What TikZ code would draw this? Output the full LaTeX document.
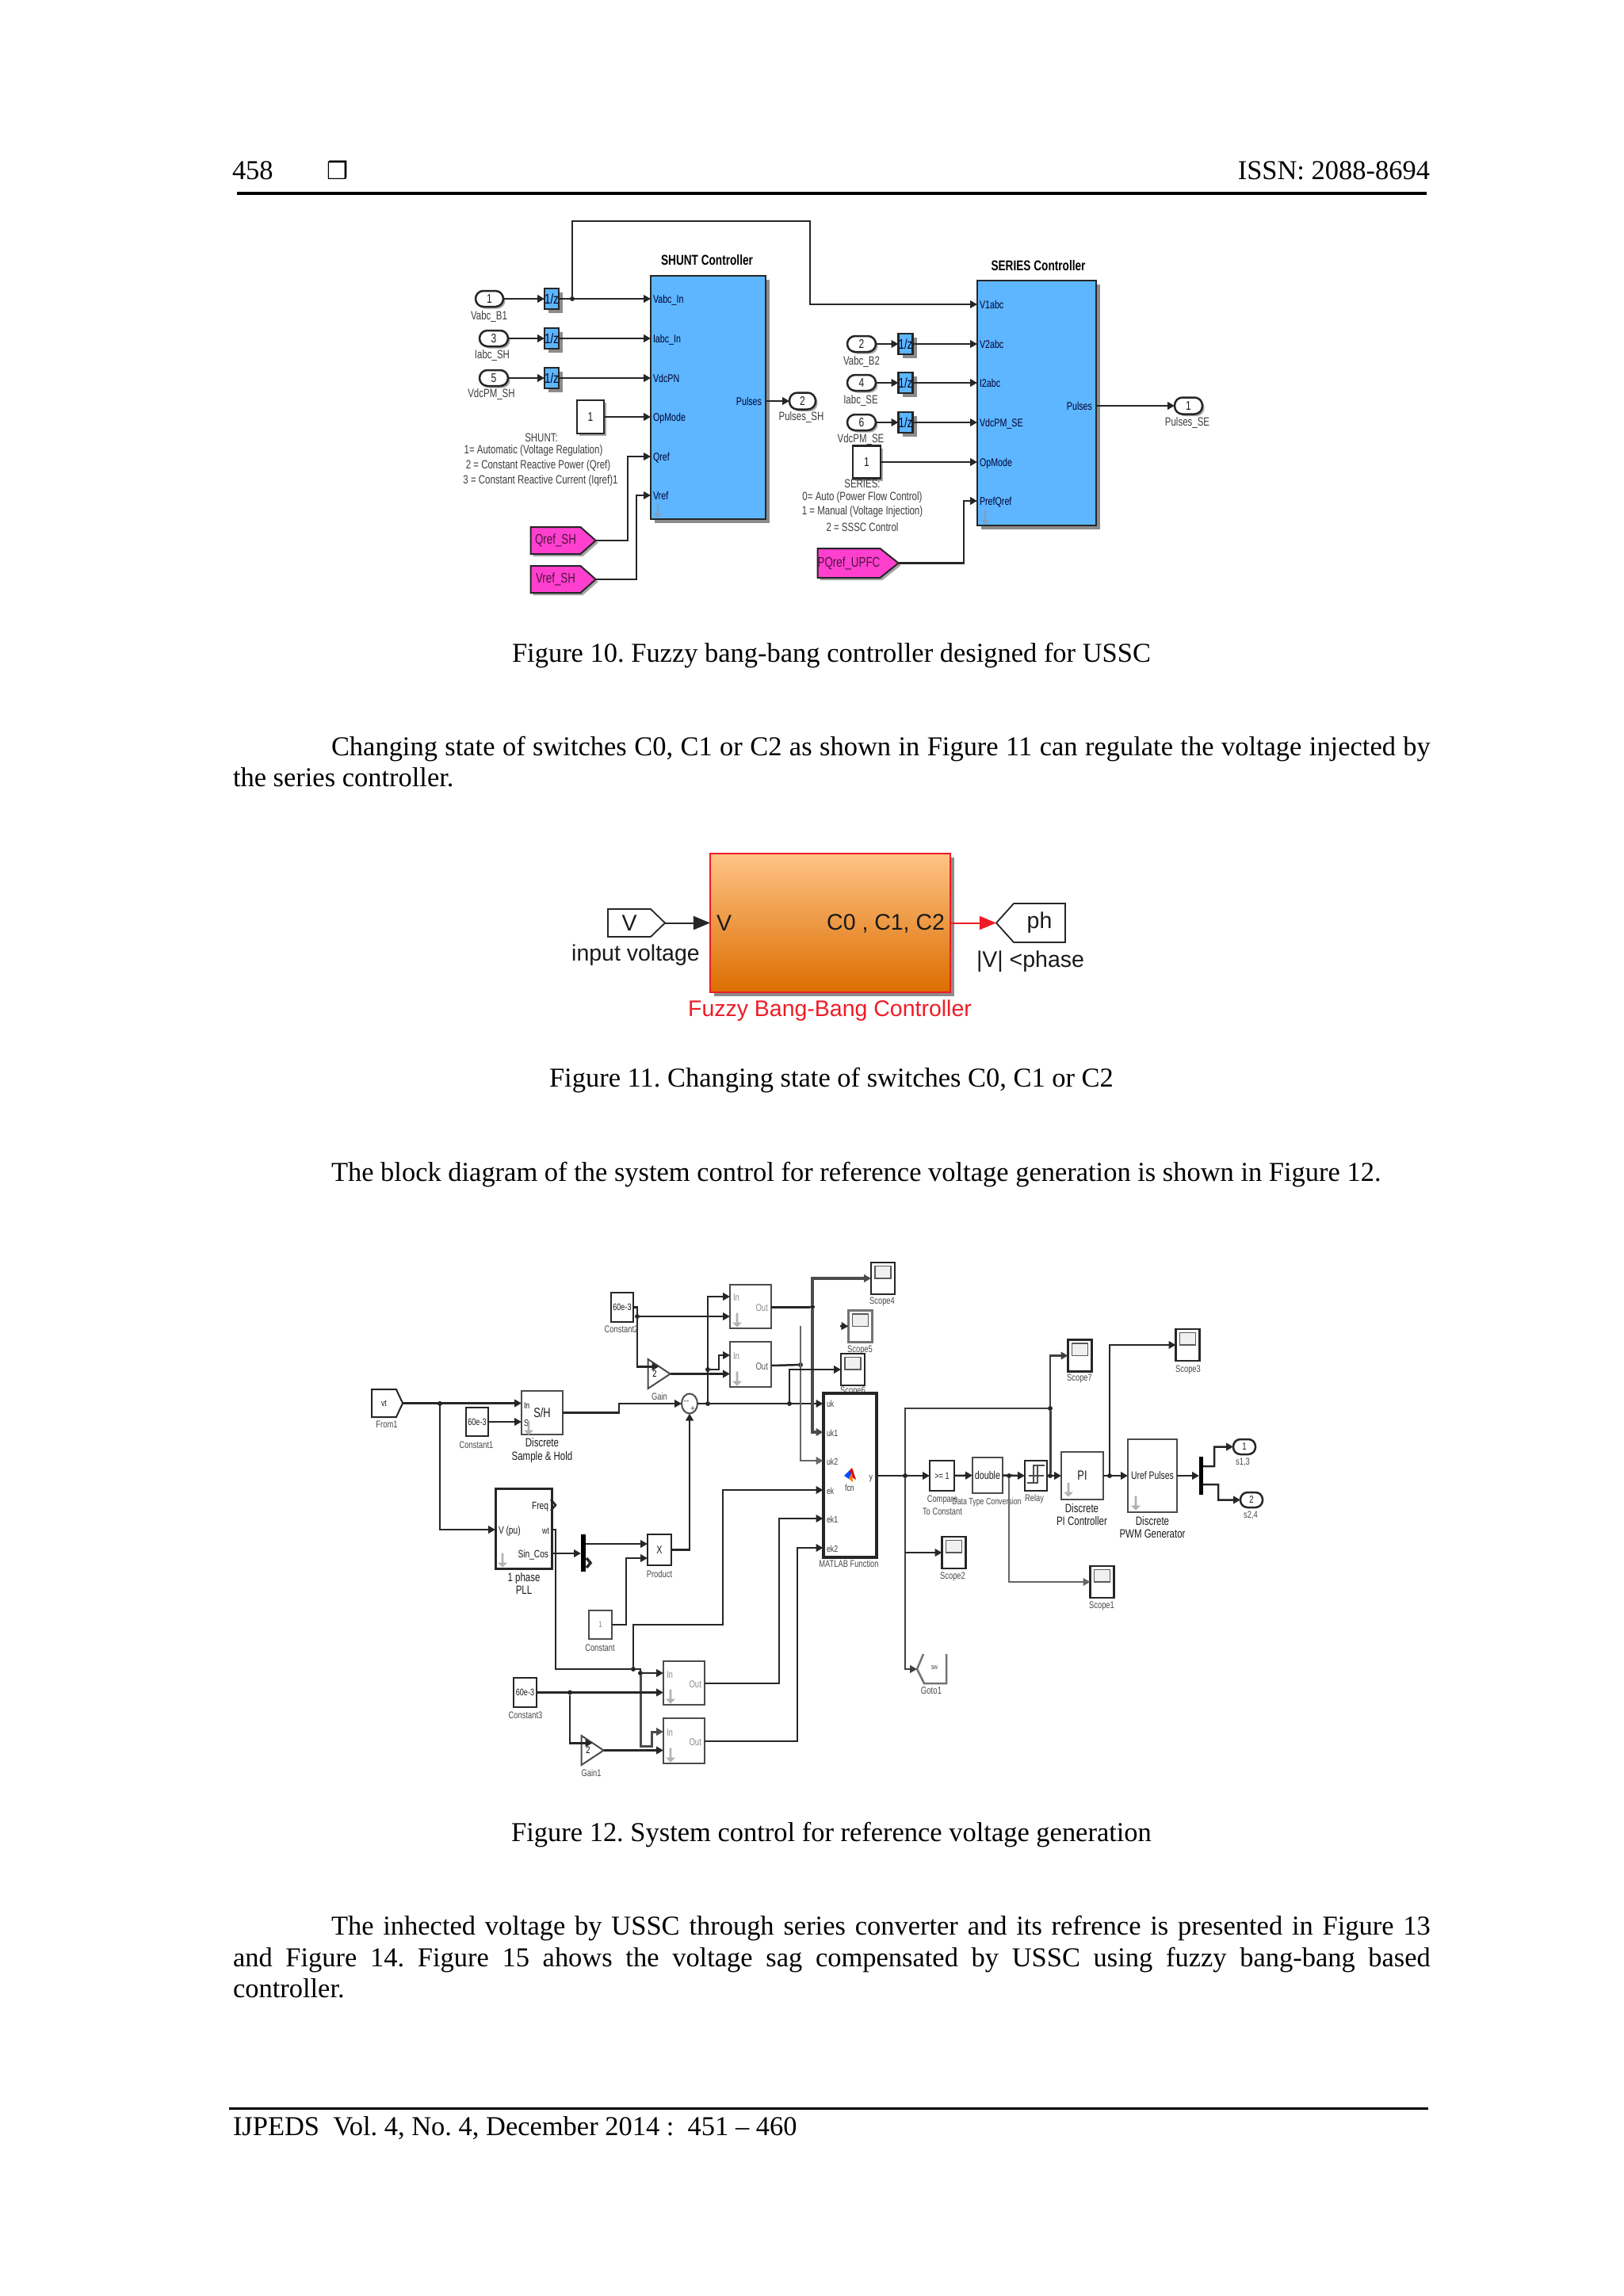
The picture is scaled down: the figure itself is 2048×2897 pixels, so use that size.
\documentclass[tikz,border=0pt]{standalone}
\usepackage{fontspec}
\setmainfont{Liberation Serif}
\newfontfamily\simfont[FakeStretch=0.76]{Liberation Sans}
\newfontfamily\simwide{Liberation Sans}
\newfontfamily\symbfont{DejaVu Sans}
\usepackage{tikz}
\usetikzlibrary{arrows.meta,positioning,shapes.geometric,shapes.symbols,shapes.arrows,shadows}
\usepackage{xcolor}
\definecolor{simblue}{HTML}{5DB6FF}
\definecolor{simpink}{HTML}{FF40CF}
\definecolor{maskblue}{HTML}{7BA2C6}
\definecolor{wirecol}{HTML}{262626}
\definecolor{darktext}{HTML}{1A1A1A}
\definecolor{fuzzyred}{HTML}{EE1C25}
\definecolor{fuzzytop}{HTML}{FFC386}
\definecolor{fuzzymid}{HTML}{F3A454}
\definecolor{fuzzybot}{HTML}{DC6E00}

\begin{document}
\frenchspacing
\begin{tikzpicture}[x=0.01cm,y=-0.01cm,
  sized/.style 2 args={minimum width=#1*0.01cm, minimum height=#2*0.01cm},
  pageline/.style={anchor=base west, inner sep=0pt, outer sep=0pt, font=\fontsize{9.8}{11}\selectfont, text=black},
  pagecap/.style={anchor=base, inner sep=0pt, outer sep=0pt, font=\fontsize{9.8}{11}\selectfont, text=black},
  blockbase/.style={rectangle, draw=wirecol, line width=0.025cm, inner sep=0pt, outer sep=0pt, fill=white, text=darktext, font=\simfont\fontsize{4.5}{5}\selectfont},
  blueblock/.style={blockbase, fill=simblue, drop shadow={shadow xshift=0.05cm, shadow yshift=-0.05cm, fill=black, opacity=0.45}},
  delayblock/.style={blueblock, sized={18}{26}, font=\simfont\fontsize{5}{5}\selectfont, text=black!85!blue},
  constblock/.style={blockbase, drop shadow={shadow xshift=0.03cm, shadow yshift=-0.03cm, fill=black, opacity=0.35}},
  portoval/.style={blockbase, rounded corners=0.1cm, drop shadow={shadow xshift=0.025cm, shadow yshift=-0.025cm, fill=black, opacity=0.35}},
  tagright/.style={signal, signal to=east, signal pointer angle=83, draw=wirecol, line width=0.02cm, inner sep=0pt, outer sep=0pt, fill=simpink, text=black!70!simpink, font=\simfont\fontsize{5}{5}\selectfont, drop shadow={shadow xshift=0.03cm, shadow yshift=-0.03cm, fill=black, opacity=0.35}},
  lbl/.style={inner sep=0pt, outer sep=0pt, text=darktext!85, font=\simfont\fontsize{4.3}{5}\selectfont},
  lblhead/.style={inner sep=0pt, outer sep=0pt, text=black, font=\simfont\bfseries\fontsize{5.1}{6}\selectfont},
  lbltiny/.style={inner sep=0pt, outer sep=0pt, text=darktext!80, align=center, font=\simfont\fontsize{3.5}{4.6}\selectfont},
  lblmid/.style={inner sep=0pt, outer sep=0pt, text=darktext, align=center, font=\simfont\fontsize{4.3}{4.7}\selectfont},
  portlbl/.style={anchor=west, inner sep=0pt, outer sep=0pt, text=black!80!blue, text height=0.1cm, text depth=0cm, font=\simfont\fontsize{4}{5}\selectfont},
  portlbr/.style={portlbl, anchor=east},
  tinyport/.style={portlbl, text=darktext!85, font=\simfont\fontsize{3.3}{4}\selectfont},
  midport/.style={portlbl, text=darktext, font=\simfont\fontsize{4}{4}\selectfont},
  greyport/.style={portlbl, text=black!45, font=\simfont\fontsize{3.6}{4}\selectfont},
  maskdown/.style={single arrow, shape border rotate=270, single arrow head extend=0.025cm, sized={12}{18}, inner sep=0pt, draw=none, fill=#1},
  wire/.style={draw=wirecol, line width=0.025cm, -{Stealth[length=0.09cm, width=0.095cm, inset=0pt]}},
  plainwire/.style={draw=wirecol, line width=0.025cm},
  softplain/.style={draw=black!55, line width=0.025cm},
  busplain/.style={draw=black!70, line width=0.035cm},
  jdot/.style={circle, fill=wirecol, inner sep=0pt, outer sep=0pt, minimum size=0.06cm},
  simbox/.style={blockbase, line width=0.028cm},
  softbox/.style={simbox, draw=black!70},
  viewer/.style={blockbase, sized={30}{40}, path picture={\draw[draw=black!65, line width=0.018cm, fill=black!6] ([xshift=0.05cm,yshift=-0.045cm]path picture bounding box.north west) rectangle ([xshift=-0.05cm,yshift=-0.2cm]path picture bounding box.north east);}},
  gainshape/.style={isosceles triangle, isosceles triangle stretches, draw=black!70, line width=0.02cm, inner sep=0pt, outer sep=0pt, fill=white, sized={37}{28}, font=\simfont\fontsize{3.5}{4}\selectfont},
  barblock/.style={rectangle, fill=black, draw=none, inner sep=0pt, outer sep=0pt},
  fuzzyport/.style={blockbase, draw=black!85, line width=0.018cm, font=\simwide\fontsize{8.1}{9}\selectfont, text=darktext},
  fuzzylbl/.style={inner sep=0pt, outer sep=0pt, font=\simwide\fontsize{8.1}{9}\selectfont, text=darktext},
  fuzzywire/.style={draw=wirecol, line width=0.02cm, -{Stealth[length=0.21cm, width=0.17cm, inset=0pt]}},
]
  \useasboundingbox (0,0) rectangle (2048,2897);

  \node[pageline] (pagenum) at (293,227) {458};
  \node[anchor=base, inner sep=0pt, font=\symbfont\fontsize{8.6}{9}\selectfont] (pagemark) at (426,226) {❒};
  \node[pagecap, anchor=base east] (issn) at (1804,227) {ISSN: 2088-8694};
  \draw[line width=0.04cm] (299,244) -- (1800,244);

  \node[blueblock, sized={145}{307}] (shunt) at (893.5,501.5) {};
  \node[lblhead] (shuntT) at (892,328) {SHUNT Controller};
  \node[portlbl] (shA) at (824,377) {Vabc\_In};
  \node[portlbl] (shB) at (824,427) {Iabc\_In};
  \node[portlbl] (shC) at (824,477) {VdcPN};
  \node[portlbl] (shD) at (824,526) {OpMode};
  \node[portlbl] (shE) at (824,576) {Qref};
  \node[portlbl] (shF) at (824,625) {Vref};
  \node[portlbr] (shP) at (961,506) {Pulses};
  \node[maskdown=maskblue] (shM) at (830,644) {};

  \node[portoval, sized={35}{20}] (inA) at (617.5,377) {1};
  \node[portoval, sized={36}{20}] (inC) at (623,427) {3};
  \node[portoval, sized={36}{20}] (inE) at (623,477) {5};
  \node[lbl] (inAl) at (617,400) {Vabc\_B1};
  \node[lbl] (inCl) at (621,449) {Iabc\_SH};
  \node[lbl] (inEl) at (620,498) {VdcPM\_SH};
  \node[delayblock] (udA) at (696,377) {1/z};
  \node[delayblock] (udC) at (696,427) {1/z};
  \node[delayblock] (udE) at (696,477) {1/z};
  \node[constblock, sized={34}{42}] (opA) at (745,526) {1};
  \node[lbl] (noteA) at (683,552) {SHUNT:};
  \node[lbl] (noteB) at (673,569) {1= Automatic (Voltage Regulation)};
  \node[lbl] (noteC) at (679,588) {2 = Constant Reactive Power (Qref)};
  \node[lbl] (noteD) at (682,607) {3 = Constant Reactive Current (Iqref)1};
  \node[tagright, sized={82}{34}] (qrefSH) at (701,682) {Qref\_SH};
  \node[tagright, sized={82}{34}] (vrefSH) at (701,731) {Vref\_SH};
  \node[jdot] (jA) at (722,377) {};
  \node[portoval, sized={33}{21}] (outSH) at (1012.5,506) {2};
  \node[lbl] (outSHl) at (1011,527) {Pulses\_SH};

  \node[blueblock, sized={150}{309}] (series) at (1308,508.5) {};
  \node[lblhead] (seriesT) at (1310,335) {SERIES Controller};
  \node[portlbl] (seA) at (1236,384) {V1abc};
  \node[portlbl] (seB) at (1236,434) {V2abc};
  \node[portlbl] (seC) at (1236,483) {I2abc};
  \node[portlbl] (seD) at (1236,533) {VdcPM\_SE};
  \node[portlbl] (seE) at (1236,583) {OpMode};
  \node[portlbl] (seF) at (1236,632) {PrefQref};
  \node[portlbr] (seP) at (1378,512) {Pulses};
  \node[maskdown=maskblue] (seM) at (1243,652) {};

  \node[portoval, sized={36}{20}] (inB) at (1087,434) {2};
  \node[portoval, sized={36}{20}] (inD) at (1087,483) {4};
  \node[portoval, sized={36}{20}] (inF) at (1087,533) {6};
  \node[lbl] (inBl) at (1087,457) {Vabc\_B2};
  \node[lbl] (inDl) at (1086,506) {Iabc\_SE};
  \node[lbl] (inFl) at (1086,555) {VdcPM\_SE};
  \node[delayblock] (udB) at (1142.5,434) {1/z};
  \node[delayblock] (udD) at (1142.5,483) {1/z};
  \node[delayblock] (udF) at (1142.5,533) {1/z};
  \node[constblock, sized={35}{41}] (opB) at (1093.5,583) {1};
  \node[lbl] (noteE) at (1088,610) {SERIES:};
  \node[lbl] (noteF) at (1088,628) {0= Auto (Power Flow Control)};
  \node[lbl] (noteG) at (1088,646) {1 = Manual (Voltage Injection)};
  \node[lbl] (noteH) at (1088,665) {2 = SSSC Control};
  \node[tagright, signal pointer angle=77, sized={98}{37}] (pqref) at (1071,710.5) {PQref\_UPFC};
  \node[portoval, sized={35}{21}] (outSE) at (1499.5,512) {1};
  \node[lbl] (outSEl) at (1498,534) {Pulses\_SE};

  \draw[wire] (inA.east) -- (udA.west);
  \draw[wire] (inC.east) -- (udC.west);
  \draw[wire] (inE.east) -- (udE.west);
  \draw[wire] (udA.east) -- (shunt.west |- shA);
  \draw[wire] (udC.east) -- (shunt.west |- shB);
  \draw[wire] (udE.east) -- (shunt.west |- shC);
  \draw[wire] (opA.east) -- (shunt.west |- shD);
  \draw[wire] (qrefSH.east) -- (792,682) |- (shunt.west |- shE);
  \draw[wire] (vrefSH.east) -- (803,731) |- (shunt.west |- shF);
  \draw[wire] (shunt.east |- shP) -- (outSH.west);
  \draw[wire] (jA) -- (722,279) -- (1022,279) |- (series.west |- seA);
  \draw[wire] (inB.east) -- (udB.west);
  \draw[wire] (inD.east) -- (udD.west);
  \draw[wire] (inF.east) -- (udF.west);
  \draw[wire] (udB.east) -- (series.west |- seB);
  \draw[wire] (udD.east) -- (series.west |- seC);
  \draw[wire] (udF.east) -- (series.west |- seD);
  \draw[wire] (opB.east) -- (series.west |- seE);
  \draw[wire] (pqref.east) -- (1216,710.5) |- (series.west |- seF);
  \draw[wire] (series.east |- seP) -- (outSE.west);

  \node[pagecap] (capA) at (1049,835) {Figure 10. Fuzzy bang-bang controller designed for USSC};
  \node[pageline] (paraA) at (418,953) {\hbox to 13.86cm{Changing state of switches C0, C1 or C2 as shown in Figure 11 can regulate the voltage injected by}};
  \node[pageline] (paraB) at (294,992) {the series controller.};

  \node[rectangle, draw=fuzzyred, line width=0.028cm, top color=fuzzytop, middle color=fuzzymid, bottom color=fuzzybot, inner sep=0pt, outer sep=0pt, sized={303}{175}, drop shadow={shadow xshift=0.05cm, shadow yshift=-0.05cm, fill=black, opacity=0.45}] (fuzzy) at (1047.5,1164.5) {};
  \node[fuzzylbl, anchor=west] (fuzzyV) at (904,1165) {V};
  \node[fuzzylbl, anchor=east] (fuzzyC) at (1192,1165) {C0 , C1, C2};
  \node[fuzzyport, signal, signal to=east, signal pointer angle=88, sized={72}{35}] (fromV) at (794,1164.5) {V};
  \node[fuzzyport, signal, signal to=west, signal pointer angle=96, sized={87}{49}] (gotoPh) at (1311.5,1164.5) {ph};
  \node[fuzzylbl] (fromVl) at (802,1205) {input voltage};
  \node[fuzzylbl] (gotoPhl) at (1300,1213) {|V| <phase};
  \node[fuzzylbl, text=fuzzyred] (fuzzyT) at (1047,1275) {Fuzzy Bang-Bang Controller};
  \draw[fuzzywire] (fromV.east) -- (fuzzy.west |- fromV.east);
  \draw[fuzzywire, draw=fuzzyred] (fuzzy.east |- gotoPh.west) -- (gotoPh.west);

  \node[pagecap] (capB) at (1049,1371) {Figure 11. Changing state of switches C0, C1 or C2};
  \node[pageline] (paraC) at (418,1490) {The block diagram of the system control for reference voltage generation is shown in Figure 12.};

  \node[blockbase, signal, signal to=east, signal pointer angle=130, line width=0.02cm, sized={39}{35}, font=\simfont\fontsize{3.3}{4}\selectfont] (from1) at (484.5,1770.5) {vt};
  \node[lbltiny] (from1l) at (488,1797) {From1};
  \node[jdot] (jB) at (555,1771) {};
  \node[simbox, sized={28}{36}, font=\simfont\fontsize{3.4}{4}\selectfont] (const1) at (602,1794) {60e-3};
  \node[lbltiny] (const1l) at (601,1823) {Constant1};
  \node[softbox, sized={52}{55}, font=\simfont\fontsize{4.8}{5}\selectfont] (sh) at (684,1782.5) {S/H};
  \node[midport, font=\simfont\fontsize{3.3}{4}\selectfont] (shIn) at (661,1772) {In};
  \node[midport, font=\simfont\fontsize{3.3}{4}\selectfont] (shS) at (661,1794) {S};
  \node[maskdown=black!30] (shM2) at (667,1801) {};
  \node[lblmid] (shl) at (684,1830) {Discrete\\Sample \& Hold};

  \node[softbox, sized={52}{55}] (sat1) at (947,1648.5) {};
  \node[greyport] (sat1In) at (925,1636) {In};
  \node[greyport, anchor=east] (sat1Out) at (969,1649) {Out};
  \node[maskdown=black!30] (sat1M) at (930,1665) {};
  \node[softbox, sized={52}{57}] (sat2) at (947,1721.5) {};
  \node[greyport] (sat2In) at (925,1710) {In};
  \node[greyport, anchor=east, text=black!65] (sat2Out) at (969,1723) {Out};
  \node[maskdown=black!30] (sat2M) at (930,1739) {};
  \node[simbox, sized={28}{37}, font=\simfont\fontsize{3.4}{4}\selectfont] (const2) at (785,1649.5) {60e-3};
  \node[lbltiny] (const2l) at (784,1677) {Constant2};
  \node[gainshape] (gain) at (826,1733.5) {2\hspace{0.06cm}};
  \node[lbltiny] (gainl) at (832,1762) {Gain};
  \node[ellipse, draw=black!70, line width=0.02cm, fill=white, inner sep=0pt, outer sep=0pt, sized={20}{25}] (sumb) at (870,1771) {};
  \node[lbltiny] (sumMinus) at (866,1770) {--};
  \node[lbltiny] (sumPlus) at (874,1778) {+};
  \node[jdot] (jC) at (893,1771) {};
  \node[jdot] (jD) at (893,1728) {};
  \node[jdot] (jE) at (804,1661) {};
  \node[jdot] (jF) at (1025,1649) {};
  \node[jdot] (jG) at (1010,1722) {};
  \node[jdot] (jH) at (996,1771) {};

  \node[viewer] (scope4) at (1114,1613) {};
  \node[lbltiny] (scope4l) at (1113,1642) {Scope4};
  \node[viewer, draw=black!55] (scope5) at (1085.5,1673.5) {};
  \node[lbltiny] (scope5l) at (1085,1703) {Scope5};
  \node[lbltiny] (scope6l) at (1076,1755) {Scope6};
  \node[viewer] (scope6) at (1076,1728) {};
  \node[viewer] (scope7) at (1362.5,1710.5) {};
  \node[lbltiny] (scope7l) at (1362,1739) {Scope7};
  \node[viewer] (scope3) at (1498.5,1697) {};
  \node[lbltiny] (scope3l) at (1499,1728) {Scope3};
  \node[viewer] (scope2) at (1203.5,1959) {};
  \node[lbltiny] (scope2l) at (1202,1989) {Scope2};
  \node[viewer] (scope1) at (1390.5,1996) {};
  \node[lbltiny] (scope1l) at (1390,2026) {Scope1};

  \node[blockbase, line width=0.04cm, sized={67}{207}] (matlab) at (1072,1861.5) {};
  \node[tinyport] (mlA) at (1043,1770) {uk};
  \node[tinyport] (mlB) at (1043,1807) {uk1};
  \node[tinyport] (mlC) at (1043,1843) {uk2};
  \node[tinyport] (mlD) at (1043,1880) {ek};
  \node[tinyport] (mlE) at (1043,1916) {ek1};
  \node[tinyport] (mlF) at (1043,1953) {ek2};
  \node[tinyport, anchor=east] (mlY) at (1101,1862) {y};
  \fill[blue!70!cyan] (1065,1862) -- (1072,1855) -- (1075,1858) -- (1071,1866) -- cycle;
  \fill[red!85!black] (1075,1852) -- (1080,1867) -- (1075,1864) -- (1072,1855) -- cycle;
  \fill[orange] (1071,1866) -- (1075,1858) -- (1076,1870) -- cycle;
  \node[tinyport, anchor=center] (mlIcon) at (1072,1876) {fcn};
  \node[lbltiny] (matlabl) at (1071,1973) {MATLAB Function};

  \node[blockbase, line width=0.03cm, sized={71}{101}] (pll) at (660.5,1928.5) {};
  \node[midport, font=\simfont\fontsize{3.8}{4}\selectfont] (pllV) at (629,1930) {V (pu)};
  \node[midport, anchor=east, font=\simfont\fontsize{3.8}{4}\selectfont] (pllF) at (692,1899) {Freq};
  \node[midport, anchor=east, font=\simfont\fontsize{3.3}{4}\selectfont] (pllW) at (693,1930) {wt};
  \node[midport, anchor=east, font=\simfont\fontsize{3.8}{4}\selectfont] (pllS) at (692,1960) {Sin\_Cos};
  \node[maskdown=black!30] (pllM) at (634,1968) {};
  \node[lblmid] (plll) at (661,1998) {1 phase\\PLL};
  \node[barblock, sized={6}{47}] (muxA) at (736,1959.5) {};
  \node[simbox, line width=0.02cm, sized={30}{39}, font=\simfont\fontsize{4}{5}\selectfont] (prod) at (832,1955.5) {X};
  \node[lbltiny] (prodl) at (832,1986) {Product};
  \coordinate (prodA) at (817,1948);
  \coordinate (prodB) at (817,1966);
  \node[blockbase, line width=0.02cm, draw=black!70, sized={29}{36}, font=\simfont\fontsize{3}{4}\selectfont, text=black!50] (const0) at (757.5,2050) {1};
  \node[lbltiny] (const0l) at (757,2079) {Constant};
  \node[jdot] (jI) at (799,2106) {};
  \node[jdot] (jJ) at (808,2111) {};

  \node[softbox, sized={52}{55}] (sat3) at (863,2123.5) {};
  \node[greyport] (sat3In) at (841,2112) {In};
  \node[greyport, anchor=east] (sat3Out) at (885,2124) {Out};
  \node[maskdown=black!30] (sat3M) at (846,2140) {};
  \node[softbox, sized={52}{57}] (sat4) at (863,2196.5) {};
  \node[greyport] (sat4In) at (841,2185) {In};
  \node[greyport, anchor=east] (sat4Out) at (885,2197) {Out};
  \node[maskdown=black!30] (sat4M) at (846,2214) {};
  \node[simbox, sized={29}{37}, font=\simfont\fontsize{3.4}{4}\selectfont] (const3) at (662.5,2135.5) {60e-3};
  \node[lbltiny] (const3l) at (663,2164) {Constant3};
  \node[jdot] (jK) at (719,2135.5) {};
  \node[gainshape] (gain1) at (742,2208.5) {2\hspace{0.06cm}};
  \node[lbltiny] (gain1l) at (746,2237) {Gain1};

  \node[simbox, sized={31}{38}, font=\simfont\fontsize{3.4}{4}\selectfont] (compare) at (1188.5,1862) {>= 1};
  \node[lbltiny] (comparel) at (1189,1899) {Compare\\To Constant};
  \node[simbox, draw=black!70, sized={38}{45}, font=\simfont\fontsize{4}{4}\selectfont] (dtc) at (1246,1861.5) {double};
  \node[lbltiny, font=\simfont\fontsize{3.3}{4}\selectfont] (dtcl) at (1245,1895) {Data Type Conversion};
  \node[simbox, sized={28}{38}] (relay) at (1307,1862) {};
  \draw[line width=0.02cm, black!70] (1296,1871) -- (1309,1871) -- (1309,1849) -- (1318,1849);
  \draw[line width=0.02cm, black!70] (1298,1862) -- (1317,1862);
  \draw[line width=0.02cm, black!70] (1304,1871) -- (1304,1849) -- (1309,1849);
  \node[lbltiny] (relayl) at (1305,1891) {Relay};
  \node[simbox, draw=black!70, sized={53}{60}, font=\simfont\fontsize{4.8}{5}\selectfont] (pi) at (1365.5,1862) {PI};
  \node[maskdown=black!30] (piM) at (1348,1879) {};
  \node[lblmid] (pil) at (1365,1911) {Discrete\\PI Controller};
  \node[simbox, draw=black!70, sized={62}{92}, font=\simfont\fontsize{3.9}{4}\selectfont] (pwm) at (1454,1862) {Uref Pulses};
  \node[maskdown=black!30] (pwmM) at (1433,1896) {};
  \node[lblmid] (pwml) at (1454,1927) {Discrete\\PWM Generator};
  \node[barblock, sized={5}{48}] (muxB) at (1515.5,1862) {};
  \node[blockbase, rounded corners=0.09cm, sized={28}{19}, font=\simfont\fontsize{3.6}{4}\selectfont] (out1) at (1570,1825.5) {1};
  \node[blockbase, rounded corners=0.09cm, sized={28}{19}, font=\simfont\fontsize{3.6}{4}\selectfont] (out2) at (1579,1892.5) {2};
  \node[lbltiny] (out1l) at (1568,1845) {s1,3};
  \node[lbltiny] (out2l) at (1578,1912) {s2,4};
  \node[jdot] (jL) at (1142,1862) {};
  \node[jdot] (jM) at (1325,1777) {};
  \node[jdot] (jN) at (1325,1862) {};
  \node[jdot] (jO) at (1273,1862) {};
  \node[jdot] (jP) at (1400,1862) {};
  \coordinate (swA) at (1157,2106);
  \node[lbltiny, font=\simfont\fontsize{2.6}{3}\selectfont] (swT) at (1179,2104) {sw};
  \node[lbltiny, font=\simfont\fontsize{3.6}{4}\selectfont] (swl) at (1175,2133) {Goto1};
  \draw[softplain] (1165,2087) -- (swA) -- (1166,2124) -- (1194,2124) -- (1194,2087);

  \draw[wire] (from1.east) -- (sh.west |- from1.east);
  \draw[wire] (jB) |- (pll.west |- pllV);
  \draw[wire] (const1.east) -- (sh.west |- const1.east);
  \draw[wire] (sh.east) -- (781,1782.5) -- (781,1771) -- (sumb.west);
  \draw[wire] (sumb.east) -- (matlab.west |- sumb.east);
  \draw[wire] (jC) |- (sat1.west |- sat1In);
  \draw[wire] (jD) -- (907,1728) |- (sat2.west |- sat2In);
  \draw[wire] (const2.east) -| (jE) |- (gain.left side);
  \draw[wire] (jE) -- (sat1.west |- jE);
  \draw[wire] (gain.apex) -- (sat2.west |- gain.apex);
  \draw[plainwire, line width=0.03cm] (sat1.east |- sat1Out) -- (jF);
  \draw[plainwire] (sat2.east |- sat2Out) -- (jG);
  \draw[wire, busplain] (jF) |- (scope4.west);
  \draw[wire, busplain] (jF) |- (matlab.west |- mlB);
  \draw[wire, draw=black!60] (1010,1673) |- (matlab.west |- mlC);
  \draw[wire] (1060,1673) -- (scope5.west);
  \draw[wire] (jH) |- (scope6.west);
  \draw[wire] (prod.east) -| (sumb.south);
  \draw[wire] (pll.east |- pllS) -- (muxA.west |- pllS);
  \draw[wire] (muxA.east |- prodA) -- (prodA);
  \draw[wire] (const0.east) -- (790,2050) |- (prodB);
  \draw[plainwire] (695,1892) -- (701,1899) -- (695,1906);
  \draw[plainwire, line width=0.035cm] (740,1966) -- (745,1972) -- (740,1978);
  \draw[plainwire] (pll.east |- pllW) -- (701,1930) -- (701,2106) -- (jI) -- (808,2106) -- (jJ);
  \draw[wire] (jJ) -- (sat3.west |- jJ);
  \draw[wire, draw=black!70, line width=0.03cm] (jJ) -- (808,2203) -- (822,2203) |- (sat4.west |- sat4In);
  \draw[wire] (jI) |- (912,2050) |- (matlab.west |- mlD);
  \draw[wire] (const3.east) -- (sat3.west |- const3.east);
  \draw[wire] (jK) |- (gain1.left side);
  \draw[wire] (gain1.apex) -- (sat4.west |- gain1.apex);
  \draw[wire] (sat3.east |- sat3Out) -- (983,2124) |- (matlab.west |- mlE);
  \draw[wire] (sat4.east |- sat4Out) -- (1006,2197) |- (matlab.west |- mlF);
  \draw[wire] (matlab.east |- mlY) -- (compare.west |- mlY);
  \draw[plainwire, draw=black!75] (jL) -- (1142,1777) -- (jM);
  \draw[wire, draw=black!75] (jM) |- (scope7.west);
  \draw[plainwire, draw=black!75, line width=0.03cm] (jM) -- (jN);
  \draw[wire, draw=black!75] (jL) |- (swA);
  \draw[wire] (jL |- scope2.west) -- (scope2.west);
  \draw[wire] (compare.east) -- (dtc.west);
  \draw[wire] (dtc.east) -- (relay.west);
  \draw[wire] (relay.east) -- (pi.west);
  \draw[wire] (pi.east) -- (pwm.west);
  \draw[wire] (pwm.east) -- (muxB.west);
  \draw[wire, draw=black!60] (jO) |- (scope1.west);
  \draw[wire] (jP) |- (scope3.west);
  \draw[wire] ([yshift=0.12cm]muxB.east) -- (1532,1850) |- (out1.west);
  \draw[wire] ([yshift=-0.11cm]muxB.east) -- (1537,1873) |- (out2.west);

  \node[pagecap] (capC) at (1049,2323) {Figure 12. System control for reference voltage generation};
  \node[pageline] (paraD) at (418,2441) {\hbox to 13.86cm{The inhected voltage by USSC through series converter and its refrence is presented in Figure 13}};
  \node[pageline] (paraE) at (294,2481) {\hbox to 15.10cm{and Figure 14. Figure 15 ahows the voltage sag compensated by USSC using fuzzy bang-bang based}};
  \node[pageline] (paraF) at (294,2520) {controller.};
  \draw[line width=0.03cm] (289,2660) -- (1802,2660);
  \node[pageline] (foot) at (294,2694) {IJPEDS\ \ Vol. 4, No. 4, December 2014 :\ \ 451 -- 460};
\end{tikzpicture}
\end{document}
